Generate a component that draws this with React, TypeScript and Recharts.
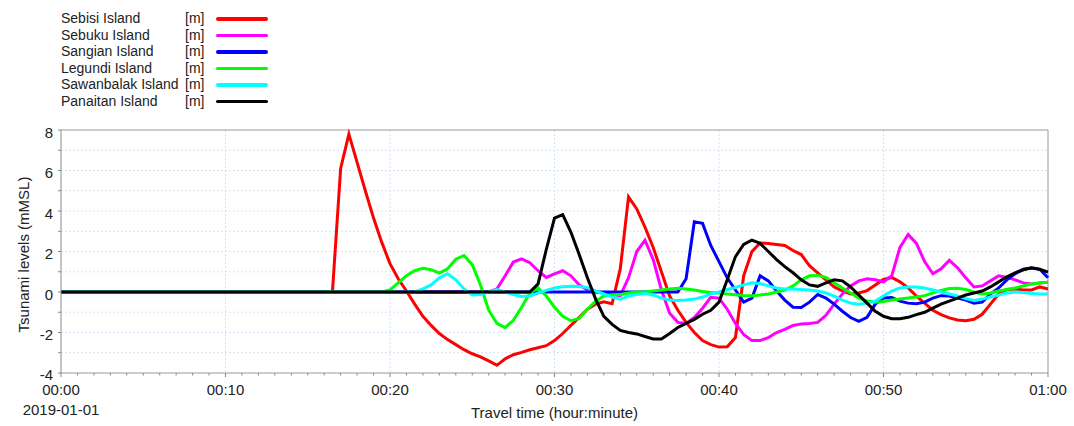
import React from "react";
import {
  LineChart,
  Line,
  XAxis,
  YAxis,
  CartesianGrid,
  ReferenceLine,
  Label,
} from "recharts";

// travel time in minutes (flat 0 before 16 min)
const times = [
  0,
  16, 16.5, 17, 17.5, 18, 18.5, 19, 19.5, 20, 20.5,
  21, 21.5, 22, 22.5, 23, 23.5, 24, 24.5, 25, 25.5,
  26, 26.5, 27, 27.5, 28, 28.5, 29, 29.5, 30, 30.5,
  31, 31.5, 32, 32.5, 33, 33.5, 34, 34.5, 35, 35.5,
  36, 36.5, 37, 37.5, 38, 38.5, 39, 39.5, 40, 40.5,
  41, 41.5, 42, 42.5, 43, 43.5, 44, 44.5, 45, 45.5,
  46, 46.5, 47, 47.5, 48, 48.5, 49, 49.5, 50, 50.5,
  51, 51.5, 52, 52.5, 53, 53.5, 54, 54.5, 55, 55.5,
  56, 56.5, 57, 57.5, 58, 58.5, 59, 59.5, 60,
];

const sebisi = [
  0,
  0, 0, 6.1, 7.8, 6.4, 5.0, 3.65, 2.45, 1.4, 0.65,
  0.05, -0.6, -1.2, -1.65, -2.05, -2.35, -2.6, -2.85, -3.05, -3.2,
  -3.4, -3.62, -3.3, -3.1, -2.98, -2.85, -2.75, -2.65, -2.4, -2.05,
  -1.65, -1.25, -0.85, -0.6, -0.48, -0.58, 1.15, 4.7, 4.1, 3.2,
  2.2, 1.0, -0.2, -0.9, -1.5, -2.0, -2.4, -2.6, -2.72, -2.7,
  -2.25, 0.8, 2.0, 2.42, 2.4, 2.35, 2.3, 2.05, 1.85, 1.3,
  0.95, 0.6, 0.25, 0.05, -0.1, -0.05, 0.07, 0.35, 0.62, 0.72,
  0.5, 0.2, -0.2, -0.55, -0.9, -1.12, -1.28, -1.38, -1.42, -1.35,
  -1.1, -0.6, -0.1, 0.12, 0.15, 0.1, 0.1, 0.25, 0.15,
];

const sebuku = [
  0,
  0, 0, 0, 0, 0, 0, 0, 0, 0, 0,
  0, 0, 0, 0, 0, 0, 0, 0, 0, 0,
  0, 0.15, 0.8, 1.48, 1.64, 1.45, 1.05, 0.72, 0.9, 1.05,
  0.8, 0.35, 0.1, 0.0, -0.05, -0.12, -0.18, 0.7, 2.0, 2.56,
  1.6, 0.1, -1.05, -1.5, -1.55, -1.26, -0.8, -0.26, -0.3, -0.85,
  -1.55, -2.1, -2.4, -2.4, -2.25, -2.0, -1.85, -1.65, -1.58, -1.56,
  -1.5, -1.15, -0.6, -0.1, 0.3, 0.55, 0.65, 0.6, 0.5, 0.8,
  2.2, 2.84, 2.4, 1.5, 0.9, 1.15, 1.56, 1.2, 0.7, 0.25,
  0.3, 0.55, 0.8, 0.72, 0.6, 0.45, 0.4, 0.45, 0.48,
];

const sangian = [
  0,
  0, 0, 0, 0, 0, 0, 0, 0, 0, 0,
  0, 0, 0, 0, 0, 0, 0, 0, 0, 0,
  0, 0, 0, 0, 0, 0, 0, 0, 0, 0,
  0, 0, 0, 0, 0, 0, 0, 0, 0, 0,
  0, 0, 0, 0, 0.65, 3.47, 3.39, 2.3, 1.5, 0.7,
  0.1, -0.5, -0.3, 0.8, 0.55, 0.05, -0.4, -0.75, -0.77, -0.5,
  -0.12, -0.3, -0.6, -0.95, -1.26, -1.45, -1.25, -0.6, -0.3, -0.27,
  -0.45, -0.55, -0.58, -0.5, -0.3, -0.18, -0.2, -0.3, -0.4, -0.55,
  -0.5, -0.1, 0.2, 0.6, 0.9, 1.12, 1.18, 1.12, 0.7,
];

const legundi = [
  0,
  0, 0, 0, 0, 0, 0, 0, 0, 0.1, 0.45,
  0.8, 1.05, 1.17, 1.1, 0.93, 1.15, 1.62, 1.8, 1.35, 0.35,
  -0.9, -1.55, -1.76, -1.4, -0.75, -0.05, 0.2, -0.2, -0.75, -1.2,
  -1.42, -1.3, -0.85, -0.45, -0.2, -0.15, -0.12, -0.05, 0, 0,
  0.05, 0.1, 0.15, 0.18, 0.15, 0.1, 0.02, -0.02, -0.05, -0.1,
  -0.13, -0.17, -0.18, -0.15, -0.1, 0, 0.1, 0.3, 0.6, 0.8,
  0.82, 0.72, 0.45, 0.2, -0.05, -0.3, -0.45, -0.5, -0.47, -0.4,
  -0.35, -0.3, -0.25, -0.18, -0.05, 0.08, 0.17, 0.18, 0.12, 0,
  -0.1, -0.05, 0.05, 0.12, 0.2, 0.3, 0.4, 0.45, 0.48,
];

const sawanbalak = [
  0,
  0, 0, 0, 0, 0, 0, 0, 0, 0, 0,
  0, 0, 0.15, 0.35, 0.7, 0.9, 0.6, 0.15, -0.15, -0.12,
  0.0, 0.12, 0.0, -0.12, -0.22, -0.2, -0.05, 0.08, 0.2, 0.26,
  0.28, 0.27, 0.22, 0.05, -0.1, -0.25, -0.35, -0.2, -0.12, -0.08,
  -0.15, -0.3, -0.4, -0.42, -0.4, -0.35, -0.25, -0.1, 0, 0.12,
  0.22, 0.35, 0.45, 0.42, 0.3, 0.2, 0.15, 0.15, 0.12, 0.1,
  0.05, -0.05, -0.2, -0.4, -0.55, -0.6, -0.55, -0.45, -0.2, 0.05,
  0.2, 0.25, 0.25, 0.2, 0.1, 0, -0.1, -0.2, -0.32, -0.42,
  -0.35, -0.25, -0.15, -0.05, 0, -0.03, -0.08, -0.1, -0.1,
];

const panaitan = [
  0,
  0, 0, 0, 0, 0, 0, 0, 0, 0, 0,
  0, 0, 0, 0, 0, 0, 0, 0, 0, 0,
  0, 0, 0, 0, 0, 0, 0.4, 2.1, 3.65, 3.82,
  2.95, 1.85, 0.7, -0.35, -1.2, -1.6, -1.9, -2.0, -2.07, -2.2,
  -2.32, -2.32, -2.05, -1.75, -1.55, -1.35, -1.1, -0.9, -0.5, 0.6,
  1.75, 2.35, 2.56, 2.4, 2.0, 1.6, 1.25, 0.95, 0.6, 0.35,
  0.28, 0.45, 0.6, 0.55, 0.25, -0.15, -0.55, -0.95, -1.2, -1.32,
  -1.32, -1.25, -1.12, -1.0, -0.8, -0.6, -0.45, -0.3, -0.15, -0.05,
  0.05, 0.25, 0.5, 0.75, 0.95, 1.1, 1.2, 1.12, 0.98,
];

const seriesKeys = ["sebisi", "sebuku", "sangian", "legundi", "sawanbalak", "panaitan"];
const seriesNames = [
  "Sebisi Island",
  "Sebuku Island",
  "Sangian Island",
  "Legundi Island",
  "Sawanbalak Island",
  "Panaitan Island",
];
const seriesColors = ["#ff0000", "#ff00ff", "#0000ff", "#00ff00", "#00ffff", "#000000"];
const seriesUnit = "[m]";

const xMajorTicks = [0, 10, 20, 30, 40, 50, 60];
const xTickLabels = ["00:00", "00:10", "00:20", "00:30", "00:40", "00:50", "01:00"];
const xMinorTicks = Array.from({ length: 61 }, (_, i) => i);
const yTicks = [-4, -3, -2, -1, 0, 1, 2, 3, 4, 5, 6, 7, 8];
const dateLabel = "2019-01-01";

const data = times.map((t, i) => ({
  t,
  sebisi: sebisi[i],
  sebuku: sebuku[i],
  sangian: sangian[i],
  legundi: legundi[i],
  sawanbalak: sawanbalak[i],
  panaitan: panaitan[i],
}));

const FONT = "'Liberation Sans', Arial, sans-serif";

function XTick(props: any) {
  const { x, y, payload } = props;
  const v = payload.value;
  const idx = xMajorTicks.indexOf(v);
  const major = idx >= 0;
  return (
    <g>
      <line x1={x} y1={y} x2={x} y2={y + (major ? 4 : 2.5)} stroke="#888" strokeWidth={1} />
      {major && (
        <text x={x} y={y + 16} textAnchor="middle" dominantBaseline="central" fontSize={15} fontFamily={FONT} fill="#222">
          {xTickLabels[idx]}
        </text>
      )}
      {v === 0 && (
        <text x={x} y={y + 36} textAnchor="middle" dominantBaseline="central" fontSize={15} fontFamily={FONT} fill="#222">
          {dateLabel}
        </text>
      )}
    </g>
  );
}

function YTick(props: any) {
  const { x, y, payload } = props;
  const v = payload.value;
  return (
    <g>
      <line x1={x - 3} y1={y} x2={x} y2={y} stroke="#888" strokeWidth={1} />
      {v % 2 === 0 && (
        <text
          x={x - 8}
          y={v === -4 ? y + 1 : y + 2}
          textAnchor="end"
          dominantBaseline="central"
          fontSize={15}
          fontFamily={FONT}
          fill="#222"
        >
          {v}
        </text>
      )}
    </g>
  );
}

function ChartLegend() {
  return (
    <div style={{ position: "absolute", left: 0, top: 0, fontFamily: FONT, fontSize: 14, color: "#222" }}>
      {seriesNames.map((name, i) => (
        <div key={name} style={{ position: "absolute", top: 10 + i * 16.5, left: 0, height: 16, width: 280 }}>
          <span style={{ position: "absolute", left: 61, top: 0, lineHeight: "16px", whiteSpace: "nowrap" }}>{name}</span>
          <span style={{ position: "absolute", left: 185, top: 0, lineHeight: "16px" }}>{seriesUnit}</span>
          <span
            style={{
              position: "absolute",
              left: 216,
              top: 7,
              width: 52,
              height: 3.5,
              borderRadius: 2,
              background: seriesColors[i],
            }}
          />
        </div>
      ))}
    </div>
  );
}

export default function App() {
  return (
    <div style={{ position: "absolute", left: 0, top: 0, width: 1074, height: 426, background: "#fff", fontFamily: FONT }}>
      <ChartLegend />
      <LineChart width={1074} height={426} data={data} margin={{ top: 130, right: 26, bottom: 0, left: 0 }}>
        <CartesianGrid
          stroke="#d3e3f5"
          strokeDasharray="2 2"
          verticalValues={[10, 20, 30, 40, 50]}
          horizontalValues={[-3, -2, -1, 0, 1, 2, 3, 4, 5, 6, 7]}
        />
        <XAxis
          dataKey="t"
          type="number"
          domain={[0, 60]}
          ticks={xMinorTicks}
          interval={0}
          height={53}
          tickLine={false}
          tickSize={0}
          tickMargin={0}
          axisLine={{ stroke: "#999" }}
          tick={<XTick />}
        >
          <Label
            content={(p: any) => {
              const vb = p.viewBox;
              return (
                <text
                  x={vb.x + vb.width / 2}
                  y={vb.y + 39}
                  textAnchor="middle"
                  dominantBaseline="central"
                  fontSize={15}
                  fontFamily={FONT}
                  fill="#222"
                >
                  Travel time (hour:minute)
                </text>
              );
            }}
          />
        </XAxis>
        <YAxis
          type="number"
          domain={[-4, 8]}
          ticks={yTicks}
          interval={0}
          width={61}
          tickLine={false}
          tickSize={0}
          tickMargin={0}
          axisLine={{ stroke: "#888" }}
          tick={<YTick />}
        >
          <Label
            content={(p: any) => {
              const vb = p.viewBox;
              const cx = 23;
              const cy = vb.y + vb.height / 2 + 3;
              return (
                <text
                  x={cx}
                  y={cy}
                  transform={`rotate(-90 ${cx} ${cy})`}
                  textAnchor="middle"
                  dominantBaseline="central"
                  fontSize={15}
                  fontFamily={FONT}
                  fill="#222"
                >
                  Tsunami levels (mMSL)
                </text>
              );
            }}
          />
        </YAxis>
        <ReferenceLine y={8} stroke="#999" strokeWidth={1} />
        <ReferenceLine x={60} stroke="#999" strokeWidth={1} />
        {seriesKeys.map((k, i) => (
          <Line
            key={k}
            dataKey={k}
            name={seriesNames[i]}
            type="linear"
            stroke={seriesColors[i]}
            strokeWidth={3}
            dot={false}
            activeDot={false}
            isAnimationActive={false}
          />
        ))}
      </LineChart>
    </div>
  );
}
